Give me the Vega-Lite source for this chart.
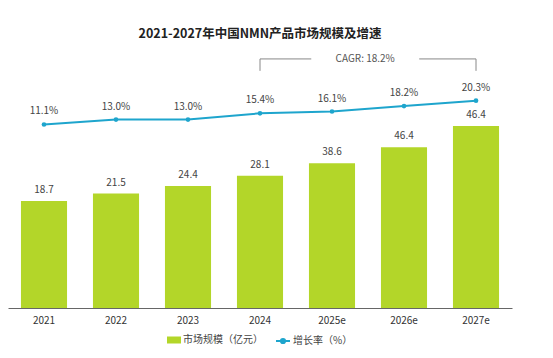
{
  "$schema": "https://vega.github.io/schema/vega-lite/v6.json",
  "width": 504,
  "height": 258,
  "autosize": {"type": "none"},
  "padding": {"left": 8, "top": 50, "right": 41, "bottom": 50},
  "title": {"text": "2021-2027年中国NMN产品市场规模及增速", "fontSize": 12.5, "fontWeight": "bold", "color": "#222222", "offset": 10, "anchor": "middle", "font": "Noto Sans CJK SC"},
  "config": {
    "view": {"stroke": null},
    "font": "Noto Sans CJK SC",
    "legend": {"layout": {"bottom": {"anchor": "middle", "direction": "horizontal", "margin": 12}}}
  },
  "datasets": {
    "main": [
      {"year": "2021", "value": 18.7, "bar": 18.7, "rate": 0.111},
      {"year": "2022", "value": 21.5, "bar": 20.0, "rate": 0.130},
      {"year": "2023", "value": 24.4, "bar": 21.3, "rate": 0.130},
      {"year": "2024", "value": 28.1, "bar": 23.1, "rate": 0.154},
      {"year": "2025e", "value": 38.6, "bar": 25.3, "rate": 0.161},
      {"year": "2026e", "value": 46.4, "bar": 28.1, "rate": 0.182},
      {"year": "2027e", "value": 46.4, "bar": 31.8, "rate": 0.203}
    ],
    "cagr": [
      {"start": "2024", "gapStart": "2025e", "gapEnd": "2026e", "end": "2027e", "top": 0.364, "bottom": 0.318, "label": "CAGR: 18.2%"}
    ]
  },
  "encoding": {
    "x": {
      "field": "year", "type": "nominal", "title": null,
      "scale": {"domain": ["2021", "2022", "2023", "2024", "2025e", "2026e", "2027e"], "paddingInner": 0.36, "paddingOuter": 0.18},
      "axis": {"domainColor": "#666666", "ticks": false, "labelFontSize": 10, "labelColor": "#333333", "labelPadding": 7, "labelAngle": 0, "grid": false}
    }
  },
  "layer": [
    {
      "data": {"name": "main"},
      "encoding": {
        "y": {"field": "bar", "type": "quantitative", "scale": {"domain": [0, 45.09]}, "axis": null}
      },
      "layer": [
        {
          "mark": {"type": "bar"},
          "encoding": {
            "fill": {"datum": "市场规模（亿元）", "type": "nominal", "scale": {"range": ["#b3d629"]},
              "legend": {"orient": "bottom", "offset": 8, "title": null, "symbolType": "M-1,-0.5H1V0.5H-1Z", "symbolSize": 196, "labelFontSize": 10, "labelColor": "#444444", "symbolStrokeWidth": 0, "labelOffset": 2}}
          }
        },
        {
          "mark": {"type": "text", "dy": -11, "fontSize": 10, "color": "#444444"},
          "encoding": {"text": {"field": "value", "type": "quantitative", "format": ".1f"}}
        }
      ]
    },
    {
      "encoding": {
        "y": {"field": "rate", "type": "quantitative", "scale": {"domain": [-0.5975, 0.3985]}, "axis": null}
      },
      "layer": [
        {
          "data": {"name": "main"},
          "mark": {"type": "line", "strokeWidth": 2},
          "encoding": {
            "stroke": {"datum": "增长率（%）", "type": "nominal", "scale": {"range": ["#1ea5cd"]},
              "legend": {"orient": "bottom", "offset": 8, "title": null, "symbolType": "M-1,0H1M-0.3,0A0.3,0.3,0,1,1,0.3,0A0.3,0.3,0,1,1,-0.3,0", "symbolSize": 196, "labelFontSize": 10, "labelColor": "#444444", "symbolStrokeWidth": 2, "labelOffset": 2,
                "encode": {"symbols": {"update": {"fill": {"value": "#1ea5cd"}, "strokeWidth": {"value": 2}}}}}}
          }
        },
        {
          "data": {"name": "main"},
          "mark": {"type": "point", "filled": true, "size": 22, "color": "#1ea5cd", "opacity": 1}
        },
        {
          "data": {"name": "main"},
          "mark": {"type": "text", "dy": -13, "fontSize": 10, "color": "#444444"},
          "encoding": {"text": {"field": "rate", "type": "quantitative", "format": ".1%"}}
        },
        {
          "data": {"name": "cagr"},
          "mark": {"type": "rule", "color": "#888888", "strokeWidth": 1},
          "encoding": {
            "x": {"field": "start", "type": "nominal", "title": null},
            "y": {"field": "top", "type": "quantitative"},
            "y2": {"field": "bottom"}
          }
        },
        {
          "data": {"name": "cagr"},
          "mark": {"type": "rule", "color": "#888888", "strokeWidth": 1},
          "encoding": {
            "x": {"field": "end", "type": "nominal", "title": null},
            "y": {"field": "top", "type": "quantitative"},
            "y2": {"field": "bottom"}
          }
        },
        {
          "data": {"name": "cagr"},
          "mark": {"type": "rule", "color": "#888888", "strokeWidth": 1},
          "encoding": {
            "x": {"field": "start", "type": "nominal", "title": null},
            "x2": {"field": "gapStart", "bandPosition": 0.05},
            "y": {"field": "top", "type": "quantitative"}
          }
        },
        {
          "data": {"name": "cagr"},
          "mark": {"type": "rule", "color": "#888888", "strokeWidth": 1},
          "encoding": {
            "x": {"field": "end", "type": "nominal", "title": null},
            "x2": {"field": "gapEnd", "bandPosition": 0.83},
            "y": {"field": "top", "type": "quantitative"}
          }
        },
        {
          "data": {"name": "cagr"},
          "mark": {"type": "text", "fontSize": 10, "color": "#555555", "baseline": "middle"},
          "encoding": {
            "x": {"field": "gapStart", "type": "nominal", "title": null, "bandPosition": 1.22},
            "y": {"field": "top", "type": "quantitative"},
            "text": {"field": "label"}
          }
        }
      ]
    }
  ],
  "resolve": {"scale": {"y": "independent"}}
}
